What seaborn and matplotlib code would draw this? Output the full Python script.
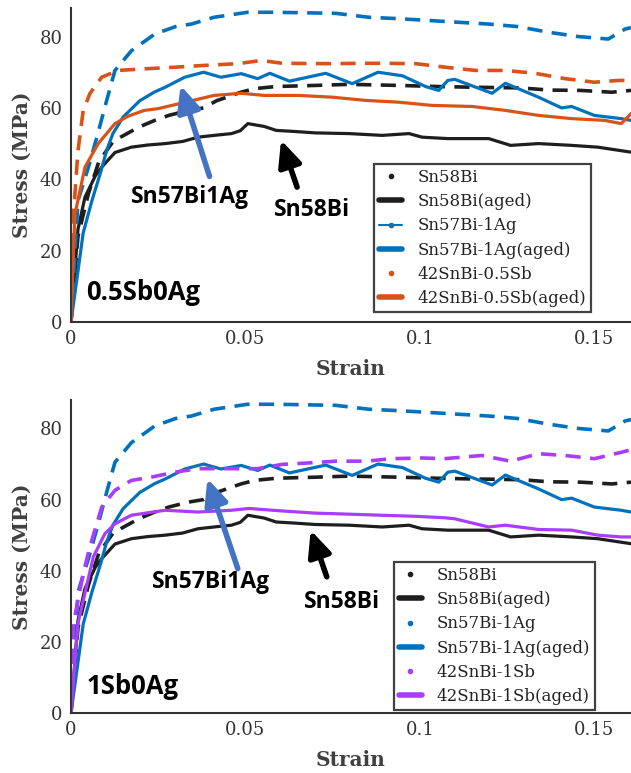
import matplotlib
matplotlib.use("Agg")
import matplotlib.pyplot as plt
import seaborn as sns
from matplotlib.lines import Line2D

# ---------------- data ----------------
# Sn58Bi (as-cast)
strain_sn58 = [0, 0.002, 0.004, 0.007, 0.0088, 0.0126, 0.0173, 0.022, 0.027, 0.032, 0.0364, 0.041, 0.046,
               0.0485, 0.0507, 0.0554, 0.0588, 0.064, 0.070, 0.0797, 0.0892, 0.0969, 0.1006, 0.108, 0.1197,
               0.126, 0.134, 0.1435, 0.151, 0.1605]
stress_sn58 = [0, 26, 35, 41, 43.4, 47.5, 49, 49.6, 50, 50.6, 51.8, 52.3, 52.8,
               53.6, 55.6, 54.8, 53.7, 53.4, 53, 52.8, 52.3, 52.8, 51.8, 51.4, 51.4,
               49.5, 50, 49.5, 49, 47.6]

# Sn58Bi (aged)
strain_sn58_aged = [0, 0.002, 0.005, 0.008, 0.012, 0.0142, 0.0194, 0.024, 0.028, 0.0337, 0.038, 0.0417, 0.0487,
                    0.0526, 0.0588, 0.070, 0.0797, 0.094, 0.105, 0.115, 0.129, 0.137, 0.146, 0.155, 0.1605]
stress_sn58_aged = [0, 24, 36, 45, 50.5, 51.8, 54.6, 56.5, 57.9, 59.3, 60, 62, 64.4,
                    65.4, 66, 66.3, 66.6, 66.3, 66, 65.8, 65.6, 65, 64.9, 64.4, 64.9]

# Sn57Bi-1Ag (as-cast)
strain_sn57 = [0, 0.0035, 0.006, 0.0085, 0.0102, 0.012, 0.0149, 0.0197, 0.024, 0.027, 0.0326, 0.038, 0.043,
               0.0488, 0.0535, 0.057, 0.0626, 0.073, 0.0806, 0.088, 0.095, 0.1016, 0.1054, 0.108, 0.110,
               0.1207, 0.1245, 0.134, 0.1406, 0.1435, 0.150, 0.1577, 0.1605]
stress_sn57 = [0, 25, 34, 42, 48, 52.8, 57.4, 62, 64.5, 65.8, 68.6, 70, 68.6,
               69.6, 68.2, 69.7, 67.5, 69.7, 66.8, 70, 69, 66, 64.9, 67.7, 68,
               64.1, 66.9, 63, 60, 60.4, 57.9, 57, 56.5]

# Sn57Bi-1Ag (aged)
strain_sn57_aged = [0, 0.002, 0.005, 0.0077, 0.0102, 0.0126, 0.0173, 0.024, 0.030, 0.0345, 0.041, 0.0506,
                    0.0588, 0.0759, 0.0854, 0.094, 0.1026, 0.111, 0.1197, 0.128, 0.1369, 0.1454, 0.154,
                    0.1588, 0.1605]
stress_sn57_aged = [0, 34, 43.4, 52.8, 62, 70.5, 76, 80.7, 82.8, 83.5, 85.4, 86.8,
                    86.8, 86.5, 85.4, 85, 84.5, 84, 83.5, 82.8, 81.2, 80, 79.3,
                    82.1, 82.5]

# 42SnBi-0.5Sb (as-cast)
strain_05sb = [0, 0.0011, 0.004, 0.0078, 0.0102, 0.0126, 0.0164, 0.021, 0.025, 0.0345, 0.041, 0.0488, 0.0554,
               0.0654, 0.0749, 0.0845, 0.094, 0.1035, 0.115, 0.1245, 0.134, 0.1435, 0.153, 0.1577, 0.1605]
stress_05sb = [0, 30, 43.4, 50, 52.8, 55.6, 57.7, 59.3, 59.8, 62, 63.5, 64.1, 63.5,
               63.5, 63, 62.1, 61.6, 60.7, 60.4, 59.3, 57.9, 57, 56.5, 55.6, 58.4]

# 42SnBi-0.5Sb (aged)
strain_05sb_aged = [0, 0.0007, 0.002, 0.0035, 0.0054, 0.0088, 0.0135, 0.022, 0.0297, 0.038, 0.0478, 0.0545,
                    0.0606, 0.0749, 0.0826, 0.090, 0.0988, 0.1073, 0.116, 0.1245, 0.133, 0.1416, 0.150,
                    0.157, 0.1605]
stress_05sb_aged = [0, 30, 48, 59.3, 64, 68.6, 70.5, 71, 71.4, 71.9, 72.4, 73.3,
                    72.5, 72.4, 72.5, 72.5, 72.4, 71.4, 70.5, 70.5, 69.7, 68.2, 67.2,
                    67.7, 67.7]

# 42SnBi-1Sb (as-cast)
strain_1sb = [0, 0.002, 0.0064, 0.0097, 0.0126, 0.0173, 0.027, 0.0364, 0.046, 0.051, 0.0606, 0.070, 0.0797,
              0.089, 0.0988, 0.107, 0.110, 0.1197, 0.1245, 0.134, 0.1435, 0.151, 0.1577, 0.1605]
stress_1sb = [0, 25.2, 43.9, 50.4, 53.2, 55.6, 57, 56.5, 57, 57.5, 56.8, 56.2, 55.9,
              55.6, 55.3, 54.9, 54.6, 52.3, 52.8, 51.6, 51.4, 50, 49.5, 49.5]

# 42SnBi-1Sb (aged)
strain_1sb_aged = [0, 0.0007, 0.0035, 0.0054, 0.0088, 0.0126, 0.0173, 0.023, 0.0297, 0.0364, 0.046, 0.0535,
                   0.0606, 0.068, 0.0759, 0.0845, 0.092, 0.1006, 0.107, 0.1177, 0.126, 0.134, 0.1416,
                   0.150, 0.1577, 0.1605]
stress_1sb_aged = [0, 25.2, 39.2, 46.7, 57.9, 62.6, 65.4, 66.3, 67.7, 68.7, 68.7, 68.7,
                   69.9, 70.3, 70.8, 70.8, 71.5, 71.7, 71.5, 72.4, 70.8, 72.9, 72.4,
                   71.5, 73.3, 74]

x_ticks = [0, 0.05, 0.1, 0.15]
x_tick_labels = ["0", "0.05", "0.1", "0.15"]
y_ticks = [0, 20, 40, 60, 80]

# ---------------- styling ----------------
BLACK = "#1e1e1e"
BLUE = "#0072BD"
ORANGE = "#D95319"
PURPLE = "#A93DFA"
ARROW_BLUE = "#4472C4"
DASH = (0, (4.2, 2.6))

sns.set_theme(style="white")
plt.rcParams["font.family"] = ["DejaVu Serif"]

fig = plt.figure(figsize=(6.31, 7.73), dpi=100)
W, H = 631, 773


def make_axes(left_px, top_px, bottom_px):
    return fig.add_axes([left_px / W, 1 - bottom_px / H, (W - left_px) / W, (bottom_px - top_px) / H])


ax_top = make_axes(71, 8, 322)
ax_bot = make_axes(71, 400, 713)


def draw(ax, x, y, color, dashed):
    kw = dict(linewidth=2.6, linestyle=DASH) if dashed else dict(linewidth=2.3, linestyle="-")
    sns.lineplot(x=x, y=y, ax=ax, color=color, sort=False, estimator=None, legend=False, **kw)


series_common = [
    (strain_sn58, stress_sn58, BLACK, False),
    (strain_sn58_aged, stress_sn58_aged, BLACK, True),
    (strain_sn57, stress_sn57, BLUE, False),
    (strain_sn57_aged, stress_sn57_aged, BLUE, True),
]

for x, y, c, d in series_common:
    draw(ax_top, x, y, c, d)
draw(ax_top, strain_05sb, stress_05sb, ORANGE, False)
draw(ax_top, strain_05sb_aged, stress_05sb_aged, ORANGE, True)

for x, y, c, d in series_common:
    draw(ax_bot, x, y, c, d)
draw(ax_bot, strain_1sb, stress_1sb, PURPLE, False)
draw(ax_bot, strain_1sb_aged, stress_1sb_aged, PURPLE, True)

ANN_FONT = ["Open Sans", "DejaVu Sans"]

for ax in (ax_top, ax_bot):
    ax.set_xlim(0, 0.1605)
    ax.set_ylim(0, 88)
    ax.set_xticks(x_ticks)
    ax.set_xticklabels(x_tick_labels)
    ax.set_yticks(y_ticks)
    ax.tick_params(direction="in", length=5, width=1.2, labelsize=13, colors="#333333", pad=6)
    for s in ("top", "right"):
        ax.spines[s].set_visible(False)
    for s in ("left", "bottom"):
        ax.spines[s].set_color("#333333")
        ax.spines[s].set_linewidth(1.5)
    ax.set_xlabel("Strain", fontsize=14.5, fontweight="bold", color="#404040", labelpad=8)
    ax.set_ylabel("Stress (MPa)", fontsize=14.5, fontweight="bold", color="#404040", labelpad=6)
    ax.grid(False)
    ax.set_facecolor("white")


def legend_handles(sb_color, sn57_line):
    h = [
        Line2D([], [], color=BLACK, marker=".", markersize=6, linestyle="none"),
        Line2D([], [], color=BLACK, linewidth=4, linestyle="-"),
        (Line2D([], [], color=BLUE, marker=".", markersize=6, linewidth=1.5, linestyle="-")
         if sn57_line else Line2D([], [], color=BLUE, marker=".", markersize=6, linestyle="none")),
        Line2D([], [], color=BLUE, linewidth=4, linestyle="-"),
        Line2D([], [], color=sb_color, marker=".", markersize=6, linestyle="none"),
        Line2D([], [], color=sb_color, linewidth=4, linestyle="-"),
    ]
    return h


def add_legend(ax, labels, sb_color, sn57_line, anchor):
    leg = ax.legend(legend_handles(sb_color, sn57_line), labels, loc="lower left", bbox_to_anchor=anchor,
                    borderaxespad=0, fontsize=12, frameon=True, fancybox=False, handlelength=1.4,
                    handletextpad=0.9, labelspacing=0.43, borderpad=0.3)
    fr = leg.get_frame()
    fr.set_edgecolor("#111111")
    fr.set_linewidth(1.6)
    for t in leg.get_texts():
        t.set_color("#222222")


add_legend(ax_top, ["Sn58Bi", "Sn58Bi(aged)", "Sn57Bi-1Ag", "Sn57Bi-1Ag(aged)", "42SnBi-0.5Sb",
                    "42SnBi-0.5Sb(aged)"], ORANGE, True, (0.541, 0.032))
add_legend(ax_bot, ["Sn58Bi", "Sn58Bi(aged)", "Sn57Bi-1Ag", "Sn57Bi-1Ag(aged)", "42SnBi-1Sb",
                    "42SnBi-1Sb(aged)"], PURPLE, False, (0.576, 0.01))

arrow_kw = dict(arrowstyle="-|>,head_length=1.1,head_width=0.5", lw=4, mutation_scale=14,
                shrinkA=0, shrinkB=0)

# top annotations
ax_top.annotate("", xy=(0.0314, 66.3), xytext=(0.0397, 40.8),
                arrowprops=dict(color=ARROW_BLUE, **arrow_kw))
ax_top.annotate("", xy=(0.0602, 51.0), xytext=(0.0648, 37.8),
                arrowprops=dict(color="black", **arrow_kw))
ax_top.text(0.034, 35, "Sn57Bi1Ag", ha="center", va="center", fontsize=16.5, fontweight="bold",
            family=ANN_FONT, color="black")
ax_top.text(0.0691, 31.3, "Sn58Bi", ha="center", va="center", fontsize=16.5, fontweight="bold",
            family=ANN_FONT, color="black")
ax_top.text(0.0044, 8.4, "0.5Sb0Ag", ha="left", va="center", fontsize=18.5, fontweight="bold",
            family=ANN_FONT, color="black")

# bottom annotations
ax_bot.annotate("", xy=(0.0391, 65.9), xytext=(0.0478, 40.6),
                arrowprops=dict(color=ARROW_BLUE, **arrow_kw))
ax_bot.annotate("", xy=(0.0687, 51.4), xytext=(0.0733, 38.3),
                arrowprops=dict(color="black", **arrow_kw))
ax_bot.text(0.0402, 36.8, "Sn57Bi1Ag", ha="center", va="center", fontsize=16.5, fontweight="bold",
            family=ANN_FONT, color="black")
ax_bot.text(0.0776, 31.2, "Sn58Bi", ha="center", va="center", fontsize=16.5, fontweight="bold",
            family=ANN_FONT, color="black")
ax_bot.text(0.0044, 7.4, "1Sb0Ag", ha="left", va="center", fontsize=18.5, fontweight="bold",
            family=ANN_FONT, color="black")

fig.savefig("out.png", dpi=100, facecolor="white")
